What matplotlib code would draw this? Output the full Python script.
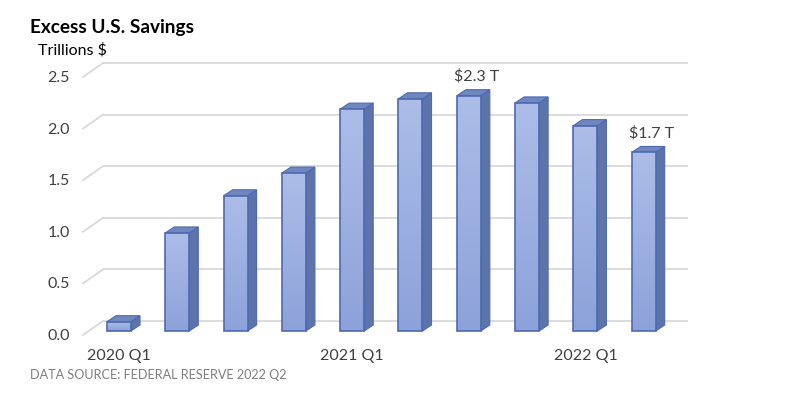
import matplotlib
matplotlib.use("Agg")
import matplotlib.pyplot as plt
import numpy as np
from matplotlib.patches import Polygon, Rectangle
from matplotlib.colors import LinearSegmentedColormap

quarters = ["2020 Q1", "2020 Q2", "2020 Q3", "2020 Q4", "2021 Q1", "2021 Q2",
            "2021 Q3", "2021 Q4", "2022 Q1", "2022 Q2"]
savings = [0.09, 0.95, 1.31, 1.53, 2.15, 2.25, 2.28, 2.21, 1.99, 1.73]
shown_xlabels = {0: "2020 Q1", 4: "2021 Q1", 8: "2022 Q1"}
value_labels = {6: "$2.3 T", 9: "$1.7 T"}
yticks = [0.0, 0.5, 1.0, 1.5, 2.0, 2.5]

W, H = 808, 408
fig = plt.figure(figsize=(W / 100, H / 100), dpi=100)
plt.rcParams['font.family'] = ['Lato', 'DejaVu Sans']

# pixel mapping: px = 119 + PXX * x ; py(from top) = 331 - PXY * v
PXX, PXY = 58.3, 103.2
x0, x1 = -1.5, 10.2
y0, y1 = -0.3, 2.9
left = (119 + PXX * x0) / W
right = (119 + PXX * x1) / W
top = 1 - (331 - PXY * y1) / H
bot = 1 - (331 - PXY * y0) / H
ax = fig.add_axes([left, bot, right - left, top - bot])
ax.set_xlim(x0, x1)
ax.set_ylim(y0, y1)
ax.axis("off")

def dxp(p):
    return p / PXX

def dyp(p):
    return p / PXY

grid_c = "#d9d9d9"
xb = dxp(103 - 119)
xf = dxp(83 - 119)
xe = dxp(688 - 119)
for v in yticks:
    ax.plot([xb, xe], [v + dyp(10), v + dyp(10)], color=grid_c, lw=1.3, zorder=1,
            solid_capstyle="butt")
    ax.plot([xf, xb], [v - dyp(4), v + dyp(10)], color=grid_c, lw=1.3, zorder=1)
    ax.text(dxp(70 - 119), v - dyp(5), f"{v:.1f}", ha="right", va="center",
            fontsize=11.5, color="#404040")

bw = 24 / PXX
ddx, ddy = dxp(9), dyp(6)
side_c = "#5d74ab"
top_c = "#7086bf"
edge_c = "#4d69b3"
grad = np.linspace(0, 1, 100).reshape(-1, 1)
cmap = LinearSegmentedColormap.from_list("g", ["#8da2da", "#adbde8"])
for i, v in enumerate(savings):
    xl = i - bw / 2
    xr = i + bw / 2
    side = Polygon([(xr, 0), (xr, v), (xr + ddx, v + ddy), (xr + ddx, ddy)],
                   closed=True, fc=side_c, ec=edge_c, lw=0.8, zorder=3)
    topf = Polygon([(xl, v), (xr, v), (xr + ddx, v + ddy), (xl + ddx, v + ddy)],
                   closed=True, fc=top_c, ec=edge_c, lw=0.8, zorder=3)
    ax.add_patch(side)
    ax.add_patch(topf)
    rect = Rectangle((xl, 0), bw, v, fc="none", ec=edge_c, lw=1.2, zorder=5)
    ax.add_patch(rect)
    im = ax.imshow(grad, cmap=cmap, extent=(xl, xr, 0, v), origin="lower",
                   aspect="auto", zorder=4, interpolation="bilinear")
    im.set_clip_path(rect)
    if i in value_labels:
        ax.text(i + ddx / 2 + dxp(3), v + dyp(19), value_labels[i], ha="center",
                va="center", fontsize=11.5, color="#404040")
    if i in shown_xlabels:
        ax.text(i, dyp(331 - 356), shown_xlabels[i], ha="center", va="center",
                fontsize=11.5, color="#404040")

ax.set_xlim(x0, x1)
ax.set_ylim(y0, y1)

fig.text(30 / W, 1 - 27 / H, "Excess U.S. Savings", fontsize=13.7, fontweight="bold",
         ha="left", va="center", color="black")
fig.text(38 / W, 1 - 50 / H, "Trillions $", fontsize=11.5, ha="left", va="center",
         color="black")
fig.text(30 / W, 1 - 375 / H, "DATA SOURCE: FEDERAL RESERVE 2022 Q2", fontsize=9.1,
         ha="left", va="center", color="#7f7f7f")

fig.savefig("out.png", dpi=100, facecolor="white")
